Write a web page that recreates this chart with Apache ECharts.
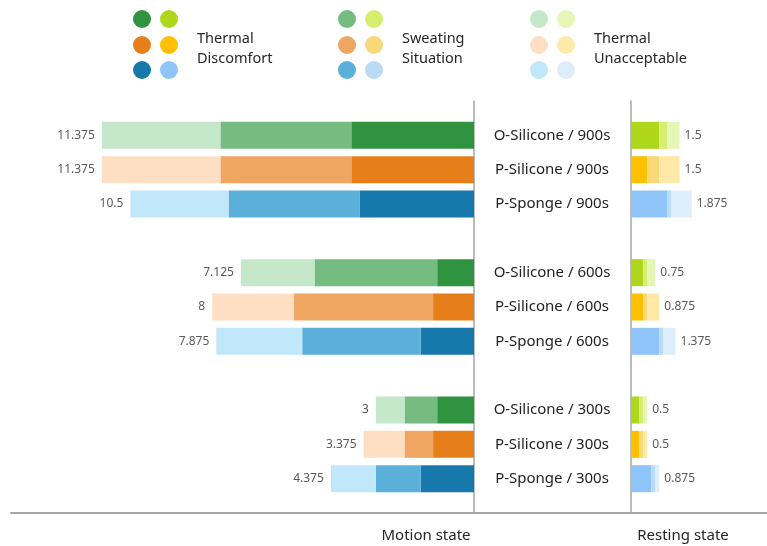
<!DOCTYPE html>
<html>
<head>
<meta charset="utf-8">
<script src="https://cdn.jsdelivr.net/npm/echarts@6/dist/echarts.min.js"></script>
<style>
  html, body { margin: 0; padding: 0; background: #fff; }
  #chart { width: 767px; height: 546px; }
</style>
</head>
<body>
<div id="chart"></div>
<script>
// 行标签（从上到下）
const rowLabels = [
  'O-Silicone / 900s', 'P-Silicone / 900s', 'P-Sponge / 900s',
  'O-Silicone / 600s', 'P-Silicone / 600s', 'P-Sponge / 600s',
  'O-Silicone / 300s', 'P-Silicone / 300s', 'P-Sponge / 300s'
];

// Motion state
const motionDiscomfort   = [3.75, 3.75, 3.5, 1.125, 1.25, 1.625, 1.125, 1.25, 1.625];
const motionSweating     = [4, 4, 4, 3.75, 4.25, 3.625, 1, 0.875, 1.375];
const motionUnacceptable = [3.625, 3.625, 3, 2.25, 2.5, 2.625, 0.875, 1.25, 1.375];

// Resting state
const restDiscomfort   = [0.875, 0.5, 1.125, 0.375, 0.375, 0.875, 0.25, 0.25, 0.625];
const restSweating     = [0.25, 0.375, 0.125, 0.125, 0.125, 0.125, 0.125, 0.125, 0.125];
const restUnacceptable = [0.375, 0.625, 0.625, 0.25, 0.375, 0.375, 0.125, 0.125, 0.125];

const legendNames = ['Thermal\nDiscomfort', 'Sweating\nSituation', 'Thermal\nUnacceptable'];

// 颜色：[行类型][指标]
const motionColors = [
  ['#2f9340', '#76bb80', '#c5e8cb'],
  ['#e67e1a', '#eea661', '#fedfc3'],
  ['#1779ab', '#5ab0d9', '#c0e7fa']
];
const restColors = [
  ['#aed61b', '#d5ee6e', '#e6f6b7'],
  ['#fec000', '#f9d878', '#ffe9a6'],
  ['#8ec4f7', '#bbdaf6', '#deedfa']
];

// 分组之间插入空行
const categories = [''];
rowLabels.forEach((name, i) => {
  categories.push(name);
  if (i % 3 === 2) categories.push('');
});
const catIndex = i => i + 1 + Math.floor(i / 3);

function buildData(values, colors, k) {
  const data = categories.map(() => '-');
  values.forEach((v, i) => {
    data[catIndex(i)] = { value: v, itemStyle: { color: colors[i % 3][k] } };
  });
  return data;
}

function totalsOf(a, b, c) {
  const t = categories.map(() => null);
  a.forEach((v, i) => { t[catIndex(i)] = v + b[i] + c[i]; });
  return t;
}
const motionTotals = totalsOf(motionDiscomfort, motionSweating, motionUnacceptable);
const restTotals = totalsOf(restDiscomfort, restSweating, restUnacceptable);

const FONT = 'Noto Sans';
const lineColor = '#a6a6a6';

function makeSeries(prefix, axisIdx, list, colors, totals, labelPos) {
  return list.map((values, k) => ({
    name: prefix + k,
    type: 'bar',
    xAxisIndex: axisIdx,
    yAxisIndex: axisIdx,
    stack: prefix,
    barWidth: 27,
    data: buildData(values, colors, k),
    silent: true,
    label: k === 2 ? {
      show: true,
      position: labelPos,
      distance: labelPos === 'left' ? 7 : 5,
      color: '#595959',
      fontSize: 12,
      fontFamily: FONT,
      formatter: p => String(totals[p.dataIndex])
    } : { show: false }
  }));
}

// 图例（手动绘制）
const graphic = [];
const legendX = [142, 347, 539];
const legendRowsY = [19, 45, 70];
legendX.forEach((x0, k) => {
  legendRowsY.forEach((y, r) => {
    graphic.push({ type: 'circle', shape: { cx: x0, cy: y, r: 9 }, style: { fill: motionColors[r][k] } });
    graphic.push({ type: 'circle', shape: { cx: x0 + 27, cy: y, r: 9 }, style: { fill: restColors[r][k] } });
  });
  graphic.push({
    type: 'text', left: x0 + 55, top: 29,
    style: { text: legendNames[k], fill: '#262626', font: '14.5px "Noto Sans"', lineHeight: 20 }
  });
});
graphic.push({
  type: 'text', x: 426, y: 536,
  style: { text: 'Motion state', fill: '#262626', font: '15px "Noto Sans"', textAlign: 'center', textVerticalAlign: 'middle' }
});
graphic.push({
  type: 'text', x: 683, y: 536,
  style: { text: 'Resting state', fill: '#262626', font: '15px "Noto Sans"', textAlign: 'center', textVerticalAlign: 'middle' }
});

const chart = echarts.init(document.getElementById('chart'));
chart.setOption({
  animation: false,
  backgroundColor: '#fff',
  graphic: graphic,
  grid: [
    { left: 11, right: 293, top: 101, bottom: 33 },
    { left: 474, right: 0, top: 101, bottom: 33 }
  ],
  xAxis: [
    {
      gridIndex: 0, type: 'value', inverse: true, min: 0, max: 14.15,
      axisLine: { show: true, lineStyle: { color: lineColor, width: 2 } },
      axisTick: { show: false }, axisLabel: { show: false }, splitLine: { show: false }
    },
    {
      gridIndex: 1, type: 'value', min: -4.85, max: 4.2,
      axisLine: { show: true, lineStyle: { color: lineColor, width: 2 } },
      axisTick: { show: false }, axisLabel: { show: false }, splitLine: { show: false }
    }
  ],
  yAxis: [
    {
      gridIndex: 0, type: 'category', inverse: true, boundaryGap: false,
      data: categories, position: 'right',
      axisLine: { show: true, lineStyle: { color: lineColor, width: 1.5 } },
      axisTick: { show: false },
      axisLabel: { interval: 0, align: 'center', margin: 78, fontSize: 15, color: '#222', fontFamily: FONT }
    },
    {
      gridIndex: 1, type: 'category', inverse: true, boundaryGap: false,
      data: categories,
      axisLine: { show: true, onZero: true, lineStyle: { color: lineColor, width: 1.5 } },
      axisTick: { show: false }, axisLabel: { show: false }
    }
  ],
  series: [
    ...makeSeries('motion', 0, [motionDiscomfort, motionSweating, motionUnacceptable], motionColors, motionTotals, 'left'),
    ...makeSeries('rest', 1, [restDiscomfort, restSweating, restUnacceptable], restColors, restTotals, 'right')
  ]
});
</script>
</body>
</html>
